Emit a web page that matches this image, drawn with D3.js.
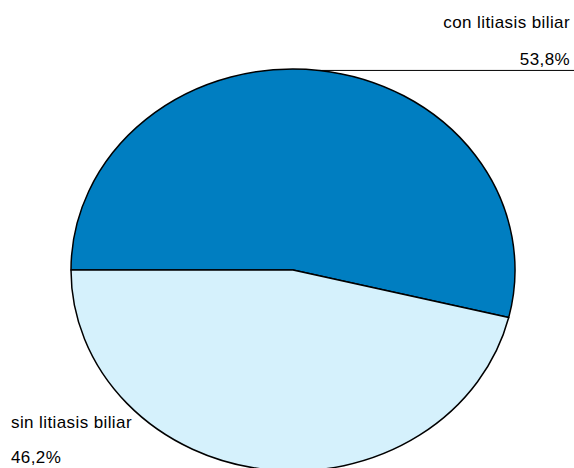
<!DOCTYPE html>
<html>
<head>
<meta charset="utf-8">
<script src="https://cdn.jsdelivr.net/npm/d3@7"></script>
<style>
  html, body { margin: 0; padding: 0; background: #fff; }
  svg { display: block; font-family: "Liberation Sans", Arial, sans-serif; }
</style>
</head>
<body>
<svg id="chart" width="574" height="468"></svg>
<script>
// Share of patients with and without biliary lithiasis
const categories = ["con litiasis biliar", "sin litiasis biliar"];
const values = [53.8, 46.2];
const valueLabels = ["53,8%", "46,2%"];
const colors = ["#007EC1", "#D5F1FC"];

const width = 574, height = 468;
const cx = 293, cy = 270, rx = 222, ry = 201;
const fontSize = 17, spacing = 0.4;

const svg = d3.select("#chart");

const pie = d3.pie()
  .sort(null)
  .value(d => d)
  .startAngle(-Math.PI / 2)
  .endAngle(3 * Math.PI / 2);

const arcs = pie(values);
const arc = d3.arc().innerRadius(0).outerRadius(rx);

// Pie is drawn on a circle and squashed vertically into an ellipse
const g = svg.append("g")
  .attr("transform", `translate(${cx},${cy}) scale(1,${ry / rx})`);

g.selectAll("path")
  .data(arcs)
  .join("path")
  .attr("d", arc)
  .attr("fill", (d, i) => colors[i])
  .attr("stroke", "#000")
  .attr("stroke-width", 1.5)
  .attr("stroke-linejoin", "round")
  .attr("vector-effect", "non-scaling-stroke");

// Point on the ellipse at the middle of a slice
function edgePoint(d) {
  const a = (d.startAngle + d.endAngle) / 2;
  return [cx + rx * Math.sin(a), cy - ry * Math.cos(a)];
}

// Leader line and label for the first slice
const p0 = edgePoint(arcs[0]);
svg.append("line")
  .attr("x1", p0[0]).attr("y1", p0[1])
  .attr("x2", width).attr("y2", p0[1])
  .attr("stroke", "#000").attr("stroke-width", 1);

function label(x, y, anchor, txt) {
  svg.append("text")
    .attr("x", x).attr("y", y)
    .attr("text-anchor", anchor)
    .attr("font-size", fontSize)
    .attr("letter-spacing", spacing)
    .attr("fill", "#000")
    .text(txt);
}

label(570, 28, "end", categories[0]);
label(570, 65, "end", valueLabels[0]);

// Label for the second slice
label(11, 428, "start", categories[1]);
label(11, 463, "start", valueLabels[1]);
</script>
</body>
</html>
